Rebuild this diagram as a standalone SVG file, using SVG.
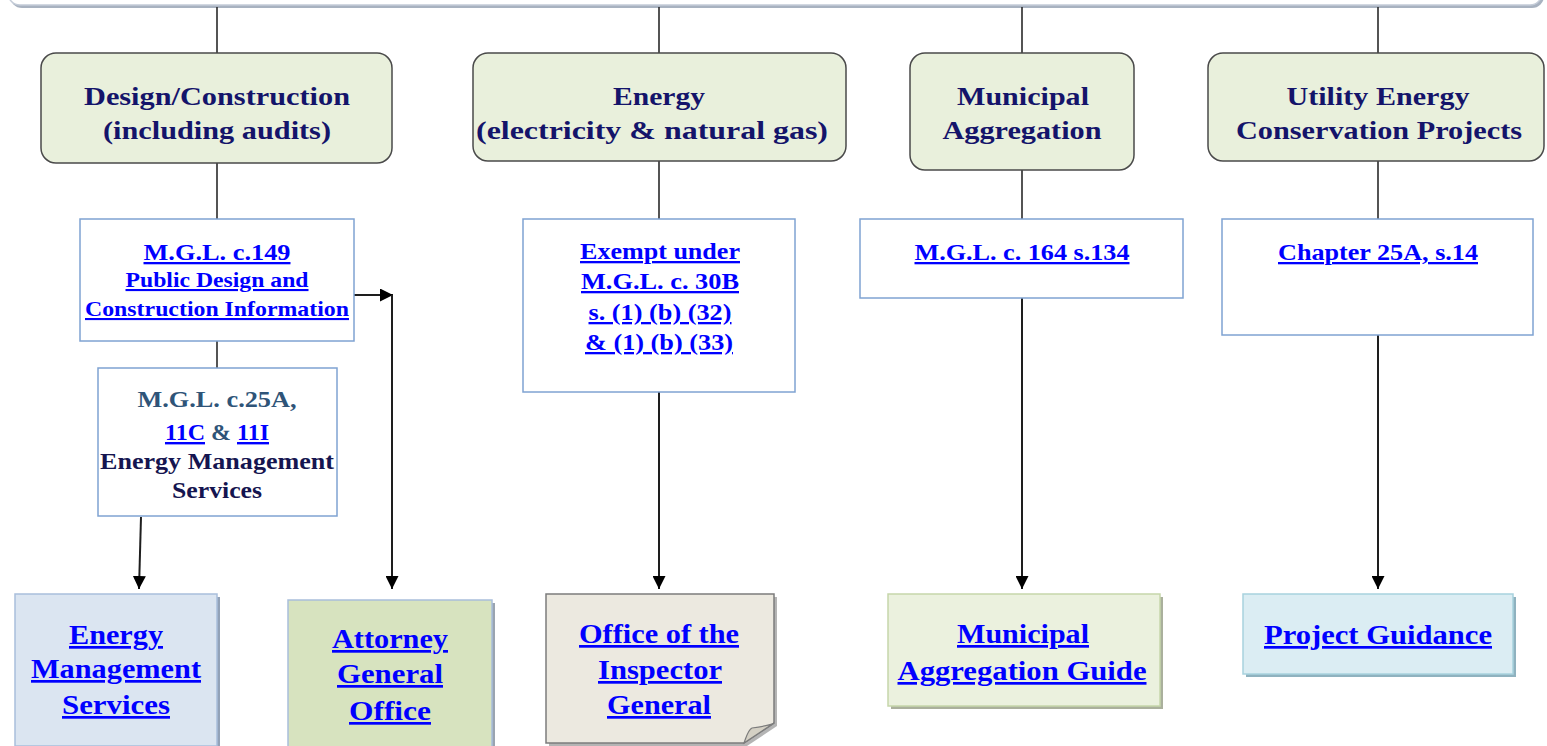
<svg xmlns="http://www.w3.org/2000/svg" width="1547" height="746" viewBox="0 0 1547 746">
<defs>
<style>
.cat{fill:#e9f0dc;stroke:#4a4a4a;stroke-width:1.5}
.law{fill:#ffffff;stroke:#7fa3d2;stroke-width:1.5}
.t{font-family:"Liberation Serif","Times New Roman",serif;font-weight:bold;text-anchor:middle}
.ct{font-size:26px;fill:#14146a}
.lk{fill:#0000ff;text-decoration:underline;text-decoration-thickness:2px}
.conn{stroke:#1e1e1e;stroke-width:2;fill:none}
.thin{stroke:#2a2a2a;stroke-width:1.6;fill:none}
</style>
<marker id="ah" viewBox="0 0 10 10" refX="10" refY="5" markerWidth="13" markerHeight="13" markerUnits="userSpaceOnUse" orient="auto">
<path d="M0,0 L10,5 L0,10 z" fill="#000"/>
</marker>
</defs>
<rect width="1547" height="746" fill="#ffffff"/>

<g id="banner">
<rect x="10" y="-40" width="1534" height="48" rx="12" fill="#a8b2c0"/>
<rect x="8" y="-42" width="1534" height="47" rx="12" fill="#ffffff" stroke="#c4ccd8" stroke-width="1.5"/>
</g>

<g id="connectors">
<line class="thin" x1="217" y1="7" x2="217" y2="53"/>
<line class="thin" x1="659" y1="7" x2="659" y2="53"/>
<line class="thin" x1="1022" y1="7" x2="1022" y2="53"/>
<line class="thin" x1="1378" y1="7" x2="1378" y2="53"/>
<line class="thin" x1="217" y1="163" x2="217" y2="219"/>
<line class="thin" x1="217" y1="341" x2="217" y2="368"/>
<line class="thin" x1="659" y1="161" x2="659" y2="219"/>
<line class="thin" x1="1022" y1="170" x2="1022" y2="219"/>
<line class="thin" x1="1378" y1="161" x2="1378" y2="219"/>
<line class="conn" x1="141" y1="517" x2="139" y2="589" marker-end="url(#ah)"/>
<line class="conn" x1="354" y1="295" x2="393" y2="295" marker-end="url(#ah)"/>
<line class="conn" x1="392" y1="295" x2="392" y2="589" marker-end="url(#ah)"/>
<line class="conn" x1="659" y1="392" x2="659" y2="589" marker-end="url(#ah)"/>
<line class="conn" x1="1022" y1="298" x2="1022" y2="589" marker-end="url(#ah)"/>
<line class="conn" x1="1378" y1="335" x2="1378" y2="589" marker-end="url(#ah)"/>
</g>

<g id="cat-design">
<rect class="cat" x="41" y="53" width="351" height="110" rx="15"/>
<text class="t ct" x="217" y="105" textLength="266" lengthAdjust="spacingAndGlyphs">Design/Construction</text>
<text class="t ct" x="217" y="139" textLength="228" lengthAdjust="spacingAndGlyphs">(including audits)</text>
</g>
<g id="cat-energy">
<rect class="cat" x="473" y="53" width="373" height="108" rx="15"/>
<text class="t ct" x="659" y="105" textLength="92" lengthAdjust="spacingAndGlyphs">Energy</text>
<text class="t ct" x="652" y="139" textLength="352" lengthAdjust="spacingAndGlyphs">(electricity &amp; natural gas)</text>
</g>
<g id="cat-municipal">
<rect class="cat" x="910" y="53" width="224" height="117" rx="15"/>
<text class="t ct" x="1023" y="105" textLength="132" lengthAdjust="spacingAndGlyphs">Municipal</text>
<text class="t ct" x="1022" y="139" textLength="159" lengthAdjust="spacingAndGlyphs">Aggregation</text>
</g>
<g id="cat-utility">
<rect class="cat" x="1208" y="53" width="336" height="108" rx="15"/>
<text class="t ct" x="1378" y="105" textLength="183" lengthAdjust="spacingAndGlyphs">Utility Energy</text>
<text class="t ct" x="1379" y="139" textLength="286" lengthAdjust="spacingAndGlyphs">Conservation Projects</text>
</g>

<g id="law-149">
<rect class="law" x="80" y="219" width="274" height="122"/>
<text class="t lk" x="217" y="260" font-size="23" textLength="147" lengthAdjust="spacingAndGlyphs">M.G.L. c.149</text>
<text class="t lk" x="217" y="287" font-size="21" textLength="183" lengthAdjust="spacingAndGlyphs">Public Design and</text>
<text class="t lk" x="217" y="316" font-size="21" textLength="264" lengthAdjust="spacingAndGlyphs">Construction Information</text>
</g>
<g id="law-25a">
<rect class="law" x="98" y="368" width="239" height="148"/>
<text class="t" x="217" y="407" font-size="24" fill="#2f5478" textLength="159" lengthAdjust="spacingAndGlyphs">M.G.L. c.25A,</text>
<text class="t" x="217" y="440" font-size="24" fill="#2f5478"><tspan class="lk">11C</tspan> &amp; <tspan class="lk">11I</tspan></text>
<text class="t" x="217" y="469" font-size="24" fill="#151550" textLength="234" lengthAdjust="spacingAndGlyphs">Energy Management</text>
<text class="t" x="217" y="498" font-size="24" fill="#151550" textLength="90" lengthAdjust="spacingAndGlyphs">Services</text>
</g>
<g id="law-30b">
<rect class="law" x="523" y="219" width="272" height="173"/>
<text class="t lk" x="660" y="259" font-size="23" textLength="160" lengthAdjust="spacingAndGlyphs">Exempt under</text>
<text class="t lk" x="660" y="289" font-size="23" textLength="158" lengthAdjust="spacingAndGlyphs">M.G.L. c. 30B</text>
<text class="t lk" x="660" y="320" font-size="23" textLength="143" lengthAdjust="spacingAndGlyphs">s. (1) (b) (32)</text>
<text class="t lk" x="659" y="350" font-size="23" textLength="148" lengthAdjust="spacingAndGlyphs">&amp; (1) (b) (33)</text>
</g>
<g id="law-164">
<rect class="law" x="860" y="219" width="323" height="79"/>
<text class="t lk" x="1022" y="260" font-size="23" textLength="215" lengthAdjust="spacingAndGlyphs">M.G.L. c. 164 s.134</text>
</g>
<g id="law-chapter25a">
<rect class="law" x="1222" y="219" width="311" height="116"/>
<text class="t lk" x="1378" y="260" font-size="23" textLength="200" lengthAdjust="spacingAndGlyphs">Chapter 25A, s.14</text>
</g>

<g id="ems">
<rect x="18" y="597" width="202" height="152" fill="#92a2b8"/>
<rect x="15" y="594" width="202" height="152" fill="#dbe5f1" stroke="#a9bedb" stroke-width="1.5"/>
<text class="t lk" x="116" y="644" font-size="27" textLength="94" lengthAdjust="spacingAndGlyphs">Energy</text>
<text class="t lk" x="116" y="678" font-size="27" textLength="170" lengthAdjust="spacingAndGlyphs">Management</text>
<text class="t lk" x="116" y="714" font-size="27" textLength="108" lengthAdjust="spacingAndGlyphs">Services</text>
</g>
<g id="ago">
<rect x="291" y="603" width="204" height="150" fill="#9aa4b0"/>
<rect x="288" y="600" width="204" height="150" fill="#d7e3bf" stroke="#a9bedb" stroke-width="1.5"/>
<text class="t lk" x="390" y="648" font-size="27" textLength="116" lengthAdjust="spacingAndGlyphs">Attorney</text>
<text class="t lk" x="390" y="683" font-size="27" textLength="106" lengthAdjust="spacingAndGlyphs">General</text>
<text class="t lk" x="390" y="720" font-size="27" textLength="82" lengthAdjust="spacingAndGlyphs">Office</text>
</g>
<g id="oig">
<path d="M549,597 H777 V726 L747,746 H549 Z" fill="#b4b4b4"/>
<path d="M546,594 H774 V723 L744,743 H546 Z" fill="#ece9e0" stroke="#7c7c7c" stroke-width="1.5"/>
<path d="M744,743 C747,735 748,730 752,728 C760,727 768,726 774,723 Z" fill="#d4d0c4" stroke="#7c7c7c" stroke-width="1.2"/>
<text class="t lk" x="659" y="643" font-size="27" textLength="160" lengthAdjust="spacingAndGlyphs">Office of the</text>
<text class="t lk" x="660" y="679" font-size="27" textLength="124" lengthAdjust="spacingAndGlyphs">Inspector</text>
<text class="t lk" x="659" y="714" font-size="27" textLength="104" lengthAdjust="spacingAndGlyphs">General</text>
</g>
<g id="mag">
<rect x="891" y="597" width="272" height="112" fill="#aab09c"/>
<rect x="888" y="594" width="272" height="112" fill="#ebf1de" stroke="#c6d6aa" stroke-width="1.5"/>
<text class="t lk" x="1023" y="643" font-size="27" textLength="132" lengthAdjust="spacingAndGlyphs">Municipal</text>
<text class="t lk" x="1022" y="680" font-size="27" textLength="249" lengthAdjust="spacingAndGlyphs">Aggregation Guide</text>
</g>
<g id="pg">
<rect x="1246" y="597" width="270" height="80" fill="#8fb2bf"/>
<rect x="1243" y="594" width="270" height="80" fill="#dbedf3" stroke="#a8d2de" stroke-width="1.5"/>
<text class="t lk" x="1378" y="644" font-size="27" textLength="228" lengthAdjust="spacingAndGlyphs">Project Guidance</text>
</g>
</svg>
